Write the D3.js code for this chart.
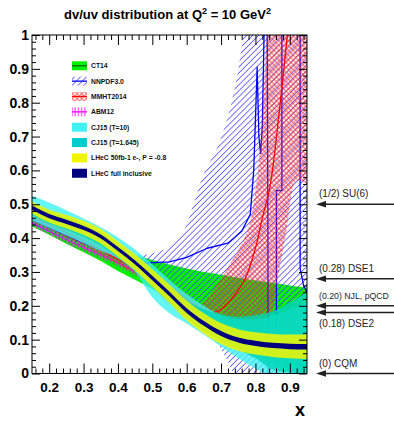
<!DOCTYPE html>
<html><head><meta charset="utf-8">
<script src="https://cdn.jsdelivr.net/npm/d3@7"></script>
<style>body{margin:0;background:#fff} svg{display:block}</style>
</head><body>
<svg id="chart" width="394" height="421"></svg>
<script>
// shared x grid for the smooth bands
const xGrid = [0.15,0.2,0.25,0.3,0.35,0.4,0.45,0.5,0.55,0.6,0.65,0.7,0.75,0.8,0.85,0.9,0.95];

// LHeC full inclusive: central value and uncertainty
const lhecFull    = [0.49,0.465,0.448,0.43,0.405,0.368,0.328,0.282,0.235,0.186,0.148,0.118,0.099,0.089,0.083,0.08,0.079];
const lhecFullErr = [0.006,0.006,0.006,0.006,0.006,0.006,0.006,0.0065,0.0065,0.007,0.007,0.0075,0.0075,0.008,0.008,0.008,0.008];
// LHeC 50 fb-1 e-, P=-0.8 uncertainty around the same central value
const lhec50Err   = [0.018,0.019,0.02,0.021,0.022,0.023,0.024,0.026,0.027,0.029,0.03,0.031,0.032,0.033,0.034,0.035,0.036];

// CJ15 bands
const cj15T10Hi   = [0.525,0.505,0.482,0.458,0.432,0.402,0.366,0.322,0.276,0.235,0.2,0.172,0.16,0.16,0.17,0.19,0.21];
const cj15T10Lo   = [0.452,0.43,0.408,0.385,0.362,0.34,0.3,0.225,0.178,0.148,0.115,0.08,0.045,0.015,-0.01,-0.02,-0.03];
const cj15T16Hi   = [0.503,0.48,0.462,0.443,0.418,0.385,0.347,0.303,0.258,0.215,0.19,0.175,0.168,0.172,0.183,0.21,0.24];
const cj15T16Lo   = [0.468,0.443,0.425,0.405,0.378,0.343,0.302,0.255,0.208,0.16,0.125,0.095,0.07,0.045,0.012,0.003,0.0];

// CT14 band
const ct14Hi      = [0.48,0.457,0.433,0.41,0.388,0.367,0.35,0.335,0.322,0.31,0.3,0.292,0.283,0.275,0.268,0.26,0.253];
const ct14Lo      = [0.435,0.41,0.383,0.358,0.332,0.303,0.277,0.25,0.225,0.2,0.175,0.14,0.1,0.06,0.03,0.01,0.0];

// ABM12 central value and uncertainty
const abm12Mid    = [0.445,0.42,0.395,0.372,0.35,0.327,0.3,0.27,0.235,0.2,0.165,0.135,0.11,0.09,0.07,0.055,0.045];
const abm12Err    = [0.01,0.01,0.01,0.01,0.01,0.01,0.01,0.01,0.01,0.01,0.01,0.01,0.01,0.01,0.01,0.01,0.01];

// NNPDF3.0 band edges and central curve
const nnpdfHiX  = [0.15,0.25,0.35,0.45,0.5,0.55,0.59,0.62,0.65,0.69,0.72,0.745,0.765,0.78,0.95];
const nnpdfHiY  = [0.47,0.43,0.385,0.35,0.355,0.375,0.42,0.5,0.59,0.67,0.76,0.87,1.0,1.1,1.1];
const nnpdfLoX  = [0.15,0.25,0.35,0.45,0.55,0.6,0.63,0.66,0.69,0.72,0.735,0.76,0.95];
const nnpdfLoY  = [0.44,0.395,0.35,0.3,0.245,0.215,0.19,0.14,0.09,0.035,0.0,-0.05,-0.1];
const nnpdfMidX = [0.15,0.3,0.45,0.55,0.6,0.66,0.72,0.76,0.785,0.795,0.8,0.805,0.81,0.815,0.82,0.825,0.826,0.834,0.836,0.837,0.861,0.861,0.877,0.877,0.93,0.93,0.94,0.95];
const nnpdfMidY = [0.455,0.385,0.325,0.33,0.343,0.37,0.385,0.42,0.47,0.6,0.75,0.905,0.7,0.65,0.73,1.0,1.1,1.1,0.5,-0.05,-0.05,0.54,0.54,1.1,1.1,0.31,0.26,0.24];

// MMHT2014 band edges and central curve
const mmhtHiX  = [0.15,0.3,0.45,0.55,0.6,0.64,0.69,0.73,0.765,0.785,0.805,0.82,0.833,0.845,0.95];
const mmhtHiY  = [0.478,0.41,0.33,0.272,0.235,0.205,0.265,0.33,0.394,0.45,0.58,0.75,1.0,1.15,1.15];
const mmhtLoX  = [0.15,0.3,0.45,0.55,0.62,0.66,0.7,0.78,0.834,0.85,0.86,0.89,0.92,0.95];
const mmhtLoY  = [0.45,0.378,0.295,0.24,0.19,0.17,0.158,0.155,0.16,0.185,0.25,0.42,0.57,0.56];
const mmhtMidX = [0.15,0.3,0.45,0.55,0.62,0.668,0.7,0.735,0.77,0.8,0.82,0.842,0.87,0.895];
const mmhtMidY = [0.462,0.392,0.31,0.255,0.205,0.178,0.19,0.226,0.28,0.37,0.46,0.55,0.78,1.02];

// model predictions for the x -> 1 limit
const modelValues = [0.5, 0.28, 0.20, 0.18, 0];
const modelLabels = ["(1/2) SU(6)", "(0.28) DSE1", "(0.20) NJL, pQCD", "(0.18) DSE2", "(0) CQM"];

const legendLabels = ["CT14","NNPDF3.0","MMHT2014","ABM12","CJ15 (T=10)","CJ15 (T=1.645)","LHeC 50fb-1 e-, P = -0.8","LHeC full inclusive"];

const xTicks = [0.2,0.3,0.4,0.5,0.6,0.7,0.8,0.9];
const yTicks = [0,0.1,0.2,0.3,0.4,0.5,0.6,0.7,0.8,0.9,1];

const FONT = "'Liberation Sans', Arial, Helvetica, sans-serif";
const svg = d3.select("#chart");
const W = 394;
const L = 32, R = 307, T = 35, B = 373.5;
const x = d3.scaleLinear().domain([0.15, 0.95]).range([L, R]);
const y = d3.scaleLinear().domain([0, 1]).range([B, T]);

const colors = {
  ct14: "#00f000", ct14Line: "#006400",
  nnpdf: "#4848ff", nnpdfLine: "#0000ff",
  mmht: "#ff2828", mmhtLine: "#ff0000",
  abm: "#ff00ff",
  cjWide: "#40f2f2", cjNarrow: "#00d6b8",
  lhec50: "#f2f500", lhecFull: "#000080"
};

// fill patterns
const defs = svg.append("defs");
function hatch(id, color, spacing, angle, width, cross) {
  const p = defs.append("pattern").attr("id", id)
    .attr("patternUnits", "userSpaceOnUse")
    .attr("width", spacing).attr("height", spacing)
    .attr("patternTransform", `rotate(${angle})`);
  p.append("line").attr("x1", spacing / 2).attr("x2", spacing / 2)
    .attr("y1", -1).attr("y2", spacing + 1)
    .attr("stroke", color).attr("stroke-width", width);
  if (cross) {
    p.append("line").attr("y1", spacing / 2).attr("y2", spacing / 2)
      .attr("x1", -1).attr("x2", spacing + 1)
      .attr("stroke", color).attr("stroke-width", width);
  }
}
hatch("pNnpdf", colors.nnpdf, 4.2, 45, 0.75, false);
hatch("pMmht", colors.mmht, 3.4, 45, 0.7, true);
hatch("pAbm", colors.abm, 3.2, 0, 0.9, false);

defs.append("clipPath").attr("id", "plotClip")
  .append("rect").attr("x", L).attr("y", T).attr("width", R - L).attr("height", B - T);

const plot = svg.append("g").attr("clip-path", "url(#plotClip)");
const idx = d3.range(xGrid.length);

function gridBand(lo, hi, fill, opacity) {
  const area = d3.area()
    .x(i => x(xGrid[i])).y0(i => y(lo(i))).y1(i => y(hi(i)))
    .curve(d3.curveMonotoneX);
  plot.append("path").attr("d", area(idx)).attr("fill", fill)
    .attr("fill-opacity", opacity == null ? 1 : opacity);
}
function freeBand(hx, hy, lx, ly, fill) {
  const line = d3.line().curve(d3.curveCatmullRom.alpha(0.5));
  const up = hx.map((v, i) => [x(v), y(hy[i])]);
  const dn = lx.map((v, i) => [x(v), y(ly[i])]).reverse();
  const d = line(up) + line(dn).replace(/^M/, "L") + "Z";
  plot.append("path").attr("d", d).attr("fill", fill);
}
function curve(xs, ys, color, width, smooth) {
  const line = d3.line().x(v => x(v)).y((v, i) => y(ys[i]))
    .curve(smooth ? d3.curveCatmullRom.alpha(0.5) : d3.curveLinear);
  plot.append("path").attr("d", line(xs)).attr("fill", "none")
    .attr("stroke", color).attr("stroke-width", width).attr("stroke-linejoin", "round");
}

// CT14
gridBand(i => ct14Lo[i], i => ct14Hi[i], colors.ct14);
// ABM12
gridBand(i => abm12Mid[i] - abm12Err[i], i => abm12Mid[i] + abm12Err[i], "url(#pAbm)");
plot.append("path").attr("fill", "none").attr("stroke", colors.abm).attr("stroke-width", 1.2)
  .attr("d", d3.line().x(i => x(xGrid[i])).y(i => y(abm12Mid[i])).curve(d3.curveMonotoneX)(idx));
// NNPDF3.0
freeBand(nnpdfHiX, nnpdfHiY, nnpdfLoX, nnpdfLoY, "url(#pNnpdf)");
curve(nnpdfMidX, nnpdfMidY, colors.nnpdfLine, 1.3, false);
// MMHT2014
freeBand(mmhtHiX, mmhtHiY, mmhtLoX, mmhtLoY, "url(#pMmht)");
curve(mmhtMidX, mmhtMidY, colors.mmhtLine, 1.3, true);
// CJ15 (translucent, the curves underneath show through)
gridBand(i => cj15T10Lo[i], i => cj15T10Hi[i], colors.cjWide, 0.8);
gridBand(i => cj15T16Lo[i], i => cj15T16Hi[i], colors.cjNarrow, 0.82);
// LHeC projections
gridBand(i => lhecFull[i] - lhec50Err[i], i => lhecFull[i] + lhec50Err[i], colors.lhec50, 0.85);
gridBand(i => lhecFull[i] - lhecFullErr[i], i => lhecFull[i] + lhecFullErr[i], colors.lhecFull);

// frame and ticks
svg.append("rect").attr("x", L).attr("y", T).attr("width", R - L).attr("height", B - T)
  .attr("fill", "none").attr("stroke", "#000").attr("stroke-width", 1);

const xMinor = d3.range(0.16, 0.951, 0.02).filter(v => !xTicks.some(t => Math.abs(t - v) < 1e-6));
const yMinor = d3.range(0, 1.001, 0.02).filter(v => !yTicks.some(t => Math.abs(t - v) < 1e-6));

function axisG(axis, tx, ty) {
  const g = svg.append("g").attr("transform", `translate(${tx},${ty})`).call(axis);
  g.select(".domain").remove();
  g.selectAll("line").attr("stroke", "#000");
  return g;
}
const noLab = () => "";
// bottom
const gxb = axisG(d3.axisBottom(x).tickValues(xTicks).tickSize(-10).tickSizeOuter(0).tickPadding(9), 0, B);
axisG(d3.axisBottom(x).tickValues(xMinor).tickSize(-5).tickFormat(noLab), 0, B);
// top
axisG(d3.axisTop(x).tickValues(xTicks).tickSize(-10).tickFormat(noLab), 0, T);
axisG(d3.axisTop(x).tickValues(xMinor).tickSize(-5).tickFormat(noLab), 0, T);
// left
const gyl = axisG(d3.axisLeft(y).tickValues(yTicks).tickSize(-8).tickPadding(3), L, 0);
axisG(d3.axisLeft(y).tickValues(yMinor).tickSize(-4).tickFormat(noLab), L, 0);
// right
axisG(d3.axisRight(y).tickValues(yTicks).tickSize(-8).tickFormat(noLab), R, 0);
axisG(d3.axisRight(y).tickValues(yMinor).tickSize(-4).tickFormat(noLab), R, 0);

gxb.selectAll("text").text(d => d3.format(".1f")(d))
  .attr("font-family", FONT).attr("font-weight", "bold").attr("font-size", 13.5).attr("fill", "#000");
gyl.selectAll("text").text(d => (d === 0 || d === 1) ? String(d) : d3.format(".1f")(d))
  .attr("font-family", FONT).attr("font-weight", "bold").attr("font-size", 14).attr("fill", "#000");

// axis title
svg.append("text").attr("x", 305).attr("y", 416).attr("text-anchor", "end")
  .attr("font-family", FONT).attr("font-weight", "bold").attr("font-size", 18).text("x");

// title
const title = svg.append("text").attr("x", 167.5).attr("y", 19).attr("text-anchor", "middle")
  .attr("font-family", FONT).attr("font-weight", "bold").attr("font-size", 13);
title.append("tspan").text("dv/uv distribution at Q");
title.append("tspan").attr("dy", -5).attr("font-size", 9).text("2");
title.append("tspan").attr("dy", 5).text(" = 10 GeV");
title.append("tspan").attr("dy", -5).attr("font-size", 9).text("2");

// legend
const legendFills = [colors.ct14, "url(#pNnpdf)", "url(#pMmht)", "url(#pAbm)", colors.cjWide, "#00cccc", colors.lhec50, colors.lhecFull];
const legendLines = [colors.ct14Line, colors.nnpdfLine, colors.mmhtLine, colors.abm, null, null, null, null];
const leg = svg.append("g");
legendLabels.forEach((lab, i) => {
  const cy = 65.8 + i * 15.35;
  leg.append("rect").attr("x", 72).attr("y", cy - 4.5).attr("width", 15).attr("height", 9)
    .attr("fill", legendFills[i]);
  if (legendLines[i]) {
    leg.append("line").attr("x1", 72).attr("x2", 87).attr("y1", cy).attr("y2", cy)
      .attr("stroke", legendLines[i]).attr("stroke-width", 1.3);
  }
  leg.append("text").attr("x", 91).attr("y", cy + 2.4)
    .attr("font-family", FONT).attr("font-weight", "bold").attr("font-size", 6.8)
    .attr("fill", "#111").text(lab);
});

// model arrows at the right
const ann = svg.append("g");
modelValues.forEach((v, i) => {
  const yy = y(v);
  ann.append("line").attr("x1", 322).attr("x2", W + 6).attr("y1", yy).attr("y2", yy)
    .attr("stroke", "#222").attr("stroke-width", 1.6);
  ann.append("path").attr("d", `M316,${yy}L326,${yy - 3.2}L326,${yy + 3.2}Z`).attr("fill", "#222");
  const closeBelow = i > 0 && modelValues[i - 1] - v < 0.05;
  const t = ann.append("text").attr("x", 319).attr("y", closeBelow ? yy + 14 : yy - 7)
    .attr("font-family", FONT).attr("font-size", 10).attr("fill", "#222").text(modelLabels[i]);
  // shrink long labels so they stay inside the page
  const room = W - 5 - 319;
  const len = t.node().getComputedTextLength();
  if (len > room) t.attr("font-size", 10 * room / len);
});
</script>
</body></html>
